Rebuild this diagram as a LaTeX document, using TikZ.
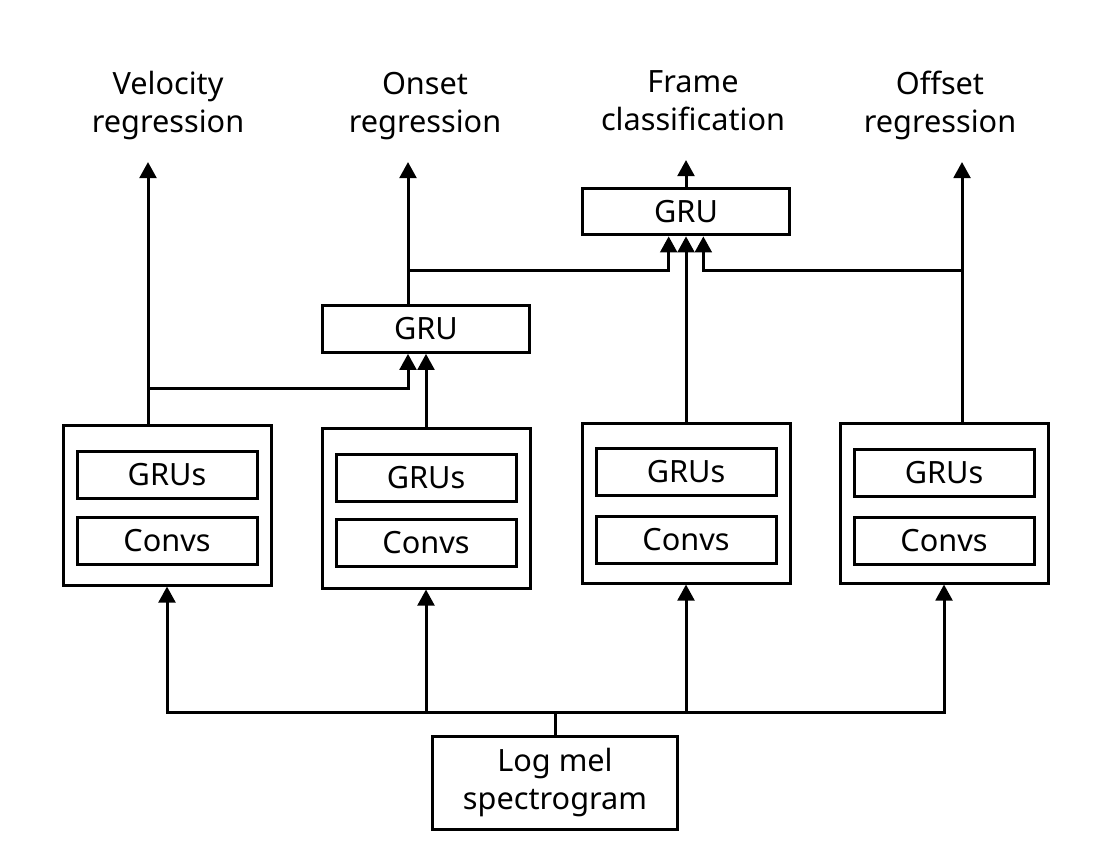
\documentclass[tikz,border=0pt]{standalone}
\usepackage{fontspec}
\setmainfont{Noto Sans}
\usetikzlibrary{positioning, arrows.meta}

\begin{document}
\begin{tikzpicture}[
    x=0.75pt, y=-0.75pt,
    every node/.style={font=\fontsize{23}{28.5}\selectfont},
    line width=2.25pt,
    netbox/.style={draw, rectangle, minimum width=156pt, minimum height=120pt, inner sep=0pt},
    layer/.style={draw, rectangle, minimum width=135pt, minimum height=35pt, inner sep=0pt},
    grubox/.style={draw, rectangle, minimum width=155pt, minimum height=35pt, inner sep=0pt},
    inbox/.style={draw, rectangle, minimum width=184pt, minimum height=70pt, align=center, inner sep=0pt},
    outtext/.style={align=center, anchor=south, inner xsep=0pt, inner ysep=16pt, text depth=5pt},
    arrow/.style={-{Triangle[length=12pt, width=12.5pt]}}
]
\useasboundingbox (0,0) rectangle (1109,867);

% Input
\node[inbox] (logmel) at (555,783) {Log mel\\spectrogram};

% Acoustic models
\node[netbox] (net1) at (167,505) {};
\node[layer] (gru1) at (167,475) {GRUs};
\node[layer] (conv1) at (167,541) {Convs};

\node[netbox] (net2) at (426,508) {};
\node[layer] (gru2) at (426,478) {GRUs};
\node[layer] (conv2) at (426,543) {Convs};

\node[netbox] (net3) at (686,503) {};
\node[layer] (gru3) at (686,472) {GRUs};
\node[layer] (conv3) at (686,540) {Convs};

\node[netbox] (net4) at (944,503) {};
\node[layer] (gru4) at (944,473) {GRUs};
\node[layer] (conv4) at (944,541) {Convs};

% Conditioning GRUs
\node[grubox] (gru_on) at (426,329) {GRU};
\node[grubox] (gru_fr) at (686,211.5) {GRU};

% Outputs
\node[outtext] (vel) at (168,162) {Velocity\\regression};
\node[outtext] (onset) at (425,162) {Onset\\regression};
\node[outtext] (frame) at (693,160) {Frame\\classification};
\node[outtext] (offset) at (940,162) {Offset\\regression};

% Junctions
\coordinate (j1) at (148,388);
\coordinate (j2) at (408,270);
\coordinate (j3) at (962,270);
\coordinate (split) at (logmel.north |- 0,712);
\coordinate (fr_l) at ([xshift=-13pt]gru_fr.south);
\coordinate (fr_r) at ([xshift=13pt]gru_fr.south);

% Spectrogram to acoustic models
\draw (logmel) -- (split);
\draw[arrow] (split) -| (net1);
\draw[arrow] (split) -| (net4);
\draw[arrow] (split -| net2) -- (net2);
\draw[arrow] (split -| net3) -- (net3);

% Velocity and onset
\draw[arrow] (net1.north -| j1) -- (j1 |- vel.south);
\draw[arrow] (j1) -| (gru_on.south -| j2);
\draw[arrow] (net2) -- (gru_on);
\draw[arrow] (gru_on.north -| j2) -- (j2 |- onset.south);

% Frame and offset
\draw[arrow] (j2) -| (fr_l);
\draw[arrow] (net3) -- (gru_fr);
\draw[arrow] (gru_fr.north) -- (gru_fr.north |- frame.south);
\draw[arrow] (net4.north -| j3) -- (j3 |- offset.south);
\draw[arrow] (j3) -| (fr_r);

\end{tikzpicture}
\end{document}
